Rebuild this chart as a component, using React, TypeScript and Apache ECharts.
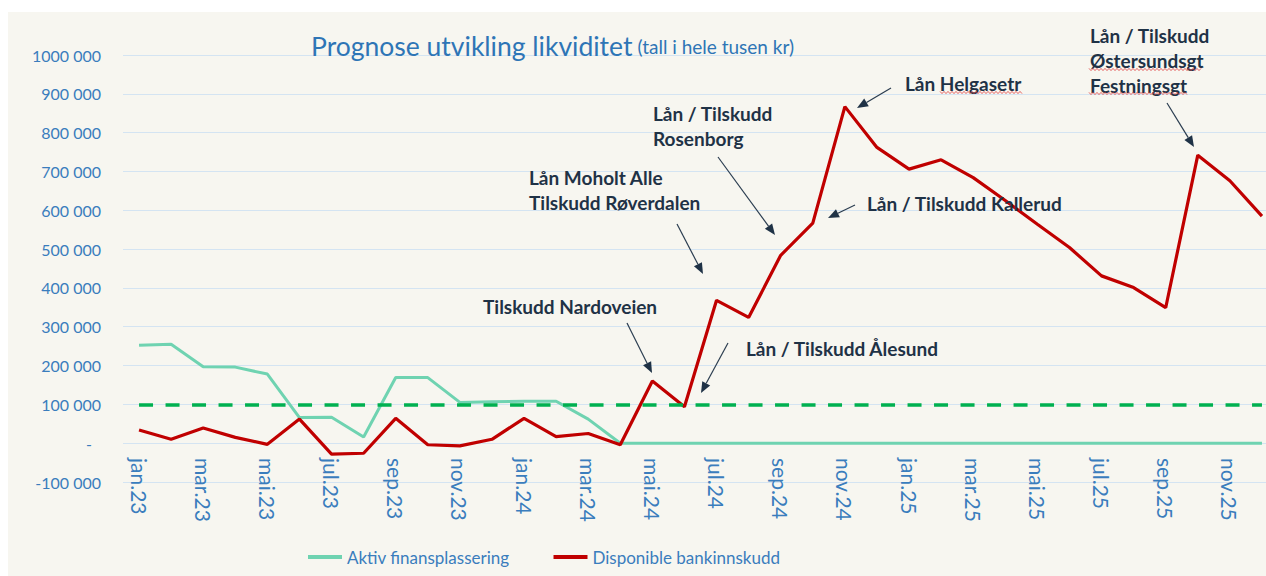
import React, { useEffect, useRef } from "react";
import * as echarts from "echarts";

const MONTHS = [
  "jan.23", "feb.23", "mar.23", "apr.23", "mai.23", "jun.23", "jul.23", "aug.23", "sep.23", "okt.23", "nov.23", "des.23",
  "jan.24", "feb.24", "mar.24", "apr.24", "mai.24", "jun.24", "jul.24", "aug.24", "sep.24", "okt.24", "nov.24", "des.24",
  "jan.25", "feb.25", "mar.25", "apr.25", "mai.25", "jun.25", "jul.25", "aug.25", "sep.25", "okt.25", "nov.25", "des.25",
];

const AKTIV_FINANSPLASSERING = [
  252000, 255000, 197000, 196000, 178000, 66000, 67000, 16000, 169000, 169000, 105000, 107000,
  108000, 108000, 62000, 0, 0, 0, 0, 0, 0, 0, 0, 0,
  0, 0, 0, 0, 0, 0, 0, 0, 0, 0, 0, 0,
];

const DISPONIBLE_BANKINNSKUDD = [
  34000, 10000, 39000, 15000, -3000, 62000, -28000, -26000, 64000, -4000, -7000, 10000,
  64000, 17000, 25000, -4000, 160000, 94000, 368000, 324000, 484000, 567000, 867000, 762000,
  706000, 730000, 684000, 625000, 564000, 504000, 431000, 401000, 349000, 742000, 676000, 585000,
];

const THRESHOLD = 100000;
const Y_MIN = -100000;
const Y_MAX = 1000000;
const Y_STEP = 100000;

const SERIES_NAMES = ["Aktiv finansplassering", "Disponible bankinnskudd"];
const TITLE_MAIN = "Prognose utvikling likviditet";
const TITLE_SUB = "(tall i hele tusen kr)";

// Annotation callouts (decorative text + arrows, pixel layout); y = centre of first line
const ANNOTATIONS = [
  { lines: ["Tilskudd Nardoveien"], x: 483, y: 306, from: [627, 323], to: [652, 373] },
  { lines: ["Lån Moholt Alle", "Tilskudd Røverdalen"], x: 529, y: 177, from: [677, 224], to: [703, 274] },
  { lines: ["Lån / Tilskudd", "Rosenborg"], x: 653, y: 113, from: [718, 157], to: [775, 235] },
  { lines: ["Lån Helgasetr"], x: 905, y: 83, from: [891, 88], to: [857, 108] },
  { lines: ["Lån / Tilskudd Kallerud"], x: 867, y: 203, from: [855, 205], to: [828, 218] },
  { lines: ["Lån / Tilskudd Ålesund"], x: 746, y: 348, from: [728, 343], to: [701, 393] },
  { lines: ["Lån / Tilskudd", "Østersundsgt", "Festningsgt"], x: 1090, y: 35, from: [1167, 103], to: [1194, 147] },
];
const ANN_LINE_HEIGHT = 25;

const SPELL_UNDERLINES = [
  { x1: 940, x2: 1023, y: 92.5 },
  { x1: 1089, x2: 1202, y: 69.5 },
  { x1: 1089, x2: 1187, y: 93.5 },
];

const BLUE = "#3a7dbd";
const GRID_COLOR = "#d4e4f2";
const NAVY = "#1f3246";

function fmtY(v: number): string {
  if (v === 0) return "{z|-}";
  const a = Math.abs(v);
  const sign = v < 0 ? "-" : "";
  if (a >= 1000) {
    const th = Math.floor(a / 1000);
    const rest = String(a % 1000).padStart(3, "0");
    return sign + th + " " + rest;
  }
  return sign + a;
}

function arrow(from: number[], to: number[]) {
  const dx = to[0] - from[0];
  const dy = to[1] - from[1];
  const len = Math.sqrt(dx * dx + dy * dy);
  const ux = dx / len;
  const uy = dy / len;
  const hl = 11;
  const hw = 4.5;
  const bx = to[0] - ux * hl;
  const by = to[1] - uy * hl;
  return [
    {
      type: "line",
      shape: { x1: from[0], y1: from[1], x2: bx, y2: by },
      style: { stroke: "#2b3d50", lineWidth: 1.2 },
      silent: true,
    },
    {
      type: "polygon",
      shape: {
        points: [
          [to[0], to[1]],
          [bx - uy * hw, by + ux * hw],
          [bx + uy * hw, by - ux * hw],
        ],
      },
      style: { fill: "#1f3246" },
      silent: true,
    },
  ];
}

function wavy(x1: number, x2: number, y: number) {
  const pts: number[][] = [];
  let up = true;
  for (let x = x1; x <= x2; x += 2) {
    pts.push([x, y + (up ? -1.1 : 1.1)]);
    up = !up;
  }
  return {
    type: "polyline",
    shape: { points: pts },
    style: { stroke: "#e04040", lineWidth: 0.8, fill: null },
    silent: true,
  };
}

export default function App() {
  const ref = useRef<HTMLDivElement>(null);

  useEffect(() => {
    if (!ref.current) return;
    const chart = echarts.init(ref.current, null, { renderer: "svg" });

    const graphics: any[] = [
      {
        type: "rect",
        shape: { x: 8, y: 12, width: 1258, height: 564 },
        style: { fill: "#f7f6f0" },
        z: -10,
        silent: true,
      },
    ];
    ANNOTATIONS.forEach((a) => {
      graphics.push({
        type: "text",
        x: a.x,
        y: a.y - ANN_LINE_HEIGHT / 2,
        style: {
          text: a.lines.join("\n"),
          fill: NAVY,
          font: "bold 19px Lato",
          lineHeight: ANN_LINE_HEIGHT,
          verticalAlign: "top",
          align: "left",
        },
        z: 10,
        silent: true,
      });
      arrow(a.from, a.to).forEach((g) => graphics.push({ ...g, z: 10 }));
    });
    SPELL_UNDERLINES.forEach((u) => graphics.push({ ...wavy(u.x1, u.x2, u.y), z: 10 }));

    chart.setOption({
      animation: false,
      backgroundColor: "#ffffff",
      title: {
        text: "{a|" + TITLE_MAIN + "} {b|" + TITLE_SUB + "}",
        left: 306,
        top: 24,
        textStyle: {
          fontWeight: "normal",
          rich: {
            a: { fontFamily: "Lato", fontSize: 26.5, fontWeight: "normal", color: "#2e75b6", lineHeight: 34 },
            b: { fontFamily: "Lato", fontSize: 19, fontWeight: "normal", color: "#2e75b6", lineHeight: 34 },
          },
        },
      },
      legend: {
        left: 308,
        top: 547,
        padding: 0,
        icon: "rect",
        itemWidth: 34,
        itemHeight: 4,
        itemGap: 44,
        data: SERIES_NAMES,
        textStyle: { fontFamily: "Lato", fontSize: 17, color: BLUE, lineHeight: 20 },
      },
      grid: { left: 123, top: 55, width: 1155, height: 427, outerBoundsMode: "none" },
      xAxis: {
        type: "category",
        data: MONTHS,
        boundaryGap: true,
        axisLine: { show: false, onZero: false },
        axisTick: { show: false },
        splitLine: { show: false },
        axisLabel: {
          interval: 1,
          rotate: -90,
          margin: -24,
          fontFamily: "Lato",
          fontSize: 21,
          color: BLUE,
        },
      },
      yAxis: {
        type: "value",
        min: Y_MIN,
        max: Y_MAX,
        interval: Y_STEP,
        axisLine: { show: false },
        axisTick: { show: false },
        splitLine: { lineStyle: { color: GRID_COLOR, width: 1 } },
        axisLabel: {
          margin: 22,
          fontFamily: "Lato",
          fontSize: 16,
          color: BLUE,
          formatter: fmtY,
          rich: { z: { fontFamily: "Lato", fontSize: 16, color: BLUE, padding: [0, 9, 0, 0] } },
        },
      },
      series: [
        {
          name: SERIES_NAMES[0],
          type: "line",
          data: AKTIV_FINANSPLASSERING,
          symbol: "none",
          lineStyle: { color: "#6fd3b1", width: 3 },
          itemStyle: { color: "#6fd3b1" },
          z: 2,
        },
        {
          name: SERIES_NAMES[1],
          type: "line",
          data: DISPONIBLE_BANKINNSKUDD,
          symbol: "none",
          lineStyle: { color: "#c00000", width: 3.2 },
          itemStyle: { color: "#c00000" },
          z: 3,
          markLine: {
            silent: true,
            symbol: ["none", "none"],
            label: { show: false },
            lineStyle: { color: "#00b050", width: 3.5, type: [14, 12.5] },
            emphasis: { disabled: true },
            data: [[{ coord: [0, THRESHOLD] }, { coord: [MONTHS.length - 1, THRESHOLD] }]],
          },
        },
      ],
      graphic: graphics,
    });

    return () => chart.dispose();
  }, []);

  return (
    <div
      ref={ref}
      style={{ position: "absolute", left: 0, top: 0, width: 1266, height: 576 }}
    />
  );
}
